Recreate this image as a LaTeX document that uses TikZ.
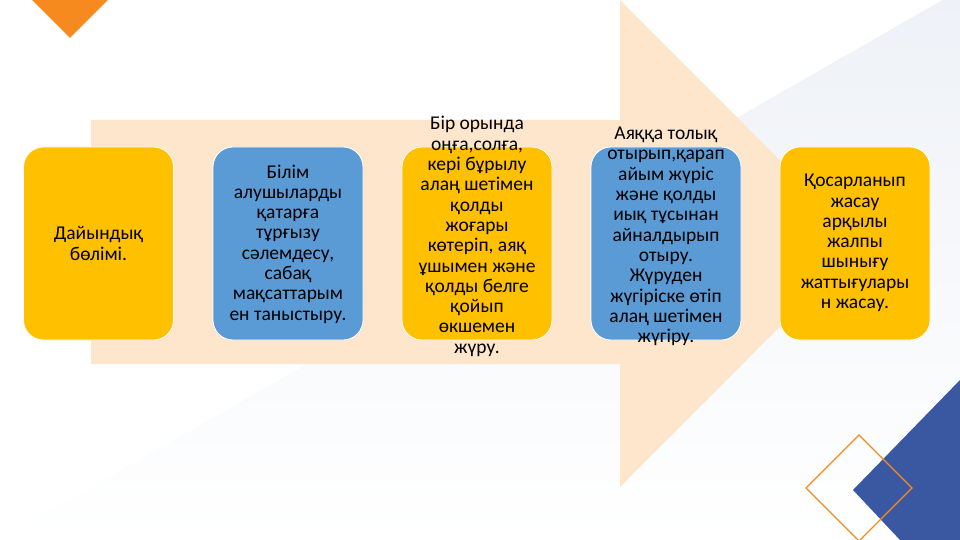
\documentclass[tikz,border=0pt]{standalone}
\usepackage{fontspec}
\setmainfont{Carlito}
\definecolor{peach}{HTML}{FDE6CC}
\definecolor{ybox}{HTML}{FFC000}
\definecolor{bbox}{HTML}{5B9BD5}
\definecolor{dblue}{HTML}{3A57A2}
\definecolor{orng}{HTML}{F78A1F}
\definecolor{faint}{HTML}{EEF1F7}
\tikzset{
  card/.style={rounded corners=20pt, minimum width=150pt, minimum height=193pt, inner sep=0pt, draw=white, line width=0.8pt},
  ycard/.style={card, fill=ybox},
  bcard/.style={card, fill=bbox},
  txt/.style={align=center, inner sep=0pt, font=\fontsize{19.5}{20.3}\selectfont, text=black}
}
\begin{document}
\begin{tikzpicture}[x=1pt,y=-1pt]
\useasboundingbox (0,0) rectangle (960,540);
\fill[white] (0,0) rectangle (960,540);
% faint background
\shade[top color=faint, bottom color=white] (0,540) -- (960,-10) -- (960,540) -- cycle;
% big arrow
\fill[peach] (91,120) -- (620,120) -- (620,0) -- (863,243.5) -- (620,487) -- (620,364) -- (91,364) -- cycle;
% decorations
\fill[orng] (32,0) -- (108,0) -- (70,38) -- cycle;
\fill[dblue] (853,490) -- (960,380) -- (960,540) -- (900,540) -- cycle;
\draw[orng, line width=1.1pt] (859,435) -- (912,488) -- (859,541) -- (806,488) -- cycle;
% cards
\node[ycard] (c1) at (98.5,243.5) {};
\node[bcard] (c2) at (288,243.5) {};
\node[ycard] (c3) at (477,243.5) {};
\node[bcard] (c4) at (666,243.5) {};
\node[ycard] (c5) at (855,243.5) {};
% texts
\node[txt] (t1) at (98.5,243.5) {Дайындық\\бөлімі.};
\node[txt] (t2) at (288,244) {Білім\\алушыларды\\қатарға\\тұрғызу\\сәлемдесу,\\сабақ\\мақсаттарым\\ен таныстыру.};
\node[txt] (t3) at (477,236.5) {Бір орында\\оңға,солға,\\кері бұрылу\\алаң шетімен\\қолды\\жоғары\\көтеріп, аяқ\\ұшымен және\\қолды белге\\қойып\\өкшемен\\жүру.};
\node[txt] (t4) at (666,236.5) {Аяққа толық\\отырып,қарап\\айым жүріс\\және қолды\\иық тұсынан\\айналдырып\\отыру.\\Жүруден\\жүгіріске өтіп\\алаң шетімен\\жүгіру.};
\node[txt] (t5) at (855,243) {Қосарланып\\жасау\\арқылы\\жалпы\\шынығу\\жаттығулары\\н жасау.};
\end{tikzpicture}
\end{document}
